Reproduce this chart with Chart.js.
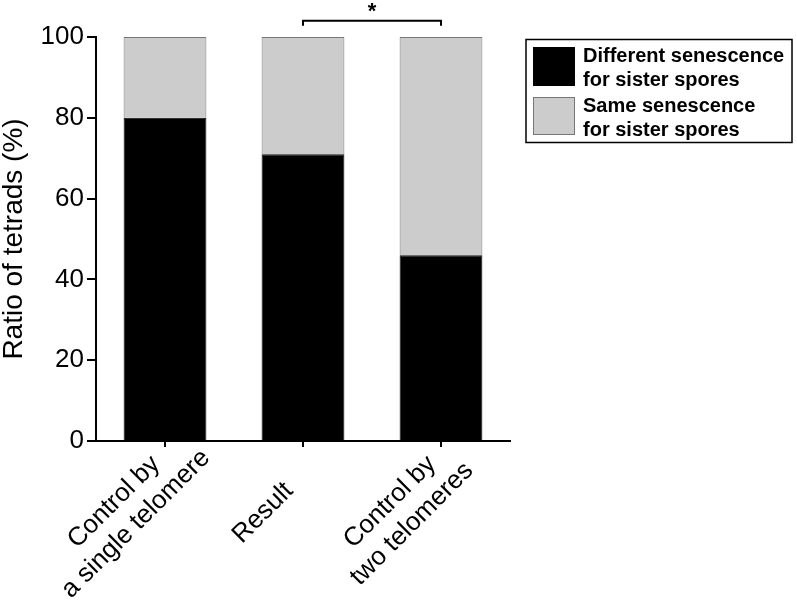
<!DOCTYPE html>
<html><head><meta charset="utf-8">
<style>html,body{margin:0;padding:0;background:#fff;}#wrap{width:797px;height:606px;position:relative;}</style>
<script src="https://cdn.jsdelivr.net/npm/chart.js@4/dist/chart.umd.min.js"></script>
</head><body><div id="wrap"><canvas id="c" width="797" height="606"></canvas></div>
<script>
const categories = [['Control by', 'a single telomere'], ['Result'], ['Control by', 'two telomeres']];
const differentValues = [80, 71, 46];
const sameValues = [20, 29, 54];
const seriesLabels = [['Different senescence', 'for sister spores'], ['Same senescence', 'for sister spores']];
const seriesColors = ['#000000', '#cccccc'];
const seriesBorders = ['#000000', '#777777'];
const yAxisTitle = 'Ratio of tetrads (%)';
const significance = [{ from: 1, to: 2, text: '*' }];

const FONT = '"Liberation Sans", Arial, Helvetica, sans-serif';

const xLabelPlugin = {
  id: 'xLabels',
  afterDraw(chart) {
    const ctx = chart.ctx, xs = chart.scales.x, ca = chart.chartArea;
    ctx.save();
    ctx.fillStyle = '#000';
    ctx.font = '26px ' + FONT;
    ctx.textAlign = 'center';
    ctx.textBaseline = 'middle';
    const lh = 31;
    categories.forEach((lines, i) => {
      const x = xs.getPixelForValue(i);
      ctx.save();
      ctx.translate(x - 40, ca.bottom + 72);
      ctx.rotate(-Math.PI / 4);
      lines.forEach((t, j) => ctx.fillText(t, 0, (j - (lines.length - 1) / 2) * lh));
      ctx.restore();
    });
    ctx.restore();
  }
};

const bracketPlugin = {
  id: 'brackets',
  afterDraw(chart) {
    const ctx = chart.ctx, xs = chart.scales.x, ys = chart.scales.y;
    ctx.save();
    significance.forEach(s => {
      const x1 = xs.getPixelForValue(s.from), x2 = xs.getPixelForValue(s.to);
      const y = ys.getPixelForValue(104);
      ctx.strokeStyle = '#000';
      ctx.lineWidth = 2;
      ctx.beginPath();
      ctx.moveTo(x1, y + 5); ctx.lineTo(x1, y); ctx.lineTo(x2, y); ctx.lineTo(x2, y + 5);
      ctx.stroke();
      ctx.fillStyle = '#000';
      ctx.font = 'bold 22px ' + FONT;
      ctx.textAlign = 'center';
      ctx.textBaseline = 'alphabetic';
      ctx.fillText(s.text, (x1 + x2) / 2, y - 3);
    });
    ctx.restore();
  }
};

const legendPlugin = {
  id: 'boxLegend',
  afterDraw(chart) {
    const ctx = chart.ctx;
    ctx.save();
    ctx.strokeStyle = '#000';
    ctx.lineWidth = 1.5;
    ctx.strokeRect(526, 39.5, 266, 103);
    const rows = [{ sy: 47, sh: 39, ty: 62 }, { sy: 97, sh: 38, ty: 112 }];
    chart.data.datasets.forEach((ds, i) => {
      const r = rows[i];
      ctx.fillStyle = ds.backgroundColor;
      ctx.fillRect(533, r.sy, 42, r.sh);
      ctx.strokeStyle = ds.borderColor;
      ctx.lineWidth = 1;
      ctx.strokeRect(533.5, r.sy + 0.5, 41, r.sh - 1);
      ctx.fillStyle = '#000';
      ctx.font = 'bold 20px ' + FONT;
      ctx.textAlign = 'left';
      ctx.textBaseline = 'alphabetic';
      seriesLabels[i].forEach((t, j) => ctx.fillText(t, 583, r.ty + j * 24));
    });
    ctx.restore();
  }
};

new Chart(document.getElementById('c'), {
  type: 'bar',
  data: {
    labels: categories,
    datasets: [
      { label: seriesLabels[0].join(' '), data: differentValues, backgroundColor: seriesColors[0], borderColor: seriesBorders[0], borderWidth: 1 },
      { label: seriesLabels[1].join(' '), data: sameValues, backgroundColor: seriesColors[1], borderColor: seriesBorders[1], borderWidth: 1 }
    ]
  },
  options: {
    responsive: false,
    animation: false,
    devicePixelRatio: 1,
    layout: { padding: { top: 37, right: 287, bottom: 0, left: 0 } },
    datasets: { bar: { barPercentage: 0.6, categoryPercentage: 1.0 } },
    plugins: { legend: { display: false }, tooltip: { enabled: false } },
    scales: {
      x: {
        stacked: true,
        offset: true,
        grid: { display: true, drawOnChartArea: false, drawTicks: true, tickLength: 6, color: '#000', lineWidth: 2, offset: false },
        border: { display: true, color: '#000', width: 2 },
        ticks: { display: false },
        afterFit: s => { s.height = 165; }
      },
      y: {
        stacked: true,
        min: 0, max: 100,
        ticks: { stepSize: 20, color: '#000', font: { family: FONT, size: 26 }, padding: 3 },
        grid: { display: true, drawOnChartArea: false, drawTicks: true, tickLength: 9, color: '#000', lineWidth: 2 },
        border: { display: true, color: '#000', width: 2 },
        title: { display: true, text: yAxisTitle, color: '#000', font: { family: FONT, size: 28, lineHeight: 0.8 }, padding: { top: 3, bottom: 0 } },
        afterFit: s => { s.width = 96; }
      }
    }
  },
  plugins: [xLabelPlugin, bracketPlugin, legendPlugin]
});
</script>
</body></html>
